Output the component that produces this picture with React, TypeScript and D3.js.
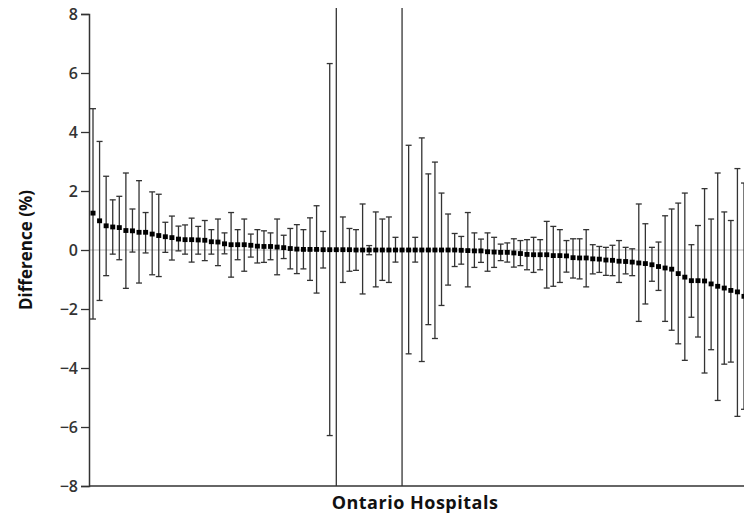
import { useEffect, useRef } from "react";
import * as d3 from "d3";

// point estimate per hospital, sorted high to low
const values = [
  1.25, 0.99, 0.82, 0.78, 0.76, 0.66, 0.65, 0.6, 0.6, 0.54,
  0.49, 0.45, 0.42, 0.37, 0.35, 0.35, 0.34, 0.33, 0.28, 0.27,
  0.21, 0.18, 0.18, 0.18, 0.16, 0.13, 0.12, 0.12, 0.1, 0.08,
  0.05, 0.03, 0.02, 0.02, 0.02, 0.01, 0.01, 0.01, 0.01, 0.01,
  0.0, 0.0, 0.0, 0.0, 0.0, 0.0, 0.0, 0.0, 0.0, 0.0,
  0.0, 0.0, 0.0, 0.0, 0.0, 0.0, -0.01, -0.02, -0.03, -0.03,
  -0.06, -0.07, -0.08, -0.08, -0.1, -0.12, -0.15, -0.16, -0.16, -0.16,
  -0.19, -0.19, -0.2, -0.26, -0.27, -0.27, -0.3, -0.31, -0.34, -0.35,
  -0.38, -0.39, -0.41, -0.44, -0.46, -0.5, -0.56, -0.61, -0.65, -0.8,
  -0.92, -1.04, -1.04, -1.05, -1.15, -1.23, -1.29, -1.37, -1.42, -1.57,
];

// upper confidence limits
const upper = [
  4.79, 3.68, 2.5, 1.7, 1.82, 2.61, 1.39, 2.35, 1.27, 1.97,
  1.89, 0.94, 1.15, 0.81, 0.85, 1.08, 0.8, 1.0, 0.69, 1.05,
  0.58, 1.27, 0.69, 1.05, 0.54, 0.69, 0.65, 0.58, 1.05, 0.5,
  0.73, 0.86, 0.69, 1.09, 1.5, 0.63, 6.32, 10, 1.12, 0.73,
  0.69, 1.56, 0.15, 1.29, 1.05, 1.12, 0.43, 10, 3.55, 0.43,
  3.8, 2.58, 2.98, 1.93, 1.22, 0.56, 0.46, 1.27, 0.58, 0.37,
  0.58, 0.43, 0.2, 0.24, 0.38, 0.32, 0.35, 0.43, 0.35, 0.97,
  0.8, 0.69, 0.32, 0.38, 0.38, 0.69, 0.18, 0.12, 0.09, 0.16,
  0.32, 0.09, 0.04, 1.56, 0.89, 0.09, 0.27, 1.16, 1.39, 1.59,
  1.93, 0.18, 0.83, 2.08, 1.05, 2.61, 1.29, 1.0, 2.76, 2.27,
];

// lower confidence limits
const lower = [
  -2.34, -1.71, -0.87, -0.14, -0.33, -1.3, -0.07, -1.12, -0.1, -0.84,
  -0.9, -0.08, -0.34, -0.03, -0.14, -0.41, -0.14, -0.36, -0.14, -0.53,
  -0.13, -0.92, -0.33, -0.72, -0.24, -0.44, -0.42, -0.33, -0.84, -0.29,
  -0.64, -0.8, -0.64, -1.03, -1.46, -0.61, -6.29, -10, -1.1, -0.72,
  -0.69, -1.49, -0.16, -1.25, -1.03, -1.1, -0.41, -10, -3.52, -0.41,
  -3.78, -2.53, -3.0, -1.88, -1.19, -0.56, -0.48, -1.25, -0.59, -0.42,
  -0.72, -0.59, -0.36, -0.41, -0.58, -0.53, -0.67, -0.76, -0.67, -1.29,
  -1.23, -1.1, -0.75, -0.95, -0.98, -1.25, -0.81, -0.76, -0.86, -0.87,
  -1.1, -0.81, -0.87, -2.42, -1.83, -1.06, -1.37, -2.42, -2.72, -3.18,
  -3.74, -2.28, -2.95, -4.17, -3.38, -5.1, -3.87, -3.8, -5.64, -5.4,
];

const hospitals = values.map((_, i) => `H${i + 1}`);
const yTicks = [-8, -6, -4, -2, 0, 2, 4, 6, 8];

export default function App() {
  const svgElem = useRef<SVGSVGElement>(null);
  const width = 744;
  const height = 516;

  useEffect(() => {
    const svg = d3.select(svgElem.current);
    svg.selectAll("*").remove();

    const left = 89;
    const top = 14;
    const bottom = 486;

    const x = d3.scalePoint().domain(hospitals).range([93, 744]);
    const y = d3.scaleLinear().domain([-8, 8]).range([bottom, top]);

    svg
      .append("defs")
      .append("clipPath")
      .attr("id", "plot-clip")
      .append("rect")
      .attr("x", left)
      .attr("y", 8)
      .attr("width", width - left)
      .attr("height", bottom - 8);

    // zero reference line
    svg
      .append("line")
      .attr("x1", left)
      .attr("x2", width)
      .attr("y1", y(0))
      .attr("y2", y(0))
      .attr("stroke", "#a8a8a8")
      .attr("stroke-width", 0.8);

    const data = hospitals.map((h, i) => ({
      h,
      v: values[i],
      lo: lower[i],
      hi: upper[i],
    }));

    const g = svg.append("g").attr("clip-path", "url(#plot-clip)");
    const bars = g.selectAll("g.bar").data(data).join("g").attr("class", "bar");
    const capW = 3;

    bars
      .append("line")
      .attr("x1", (d) => x(d.h)!)
      .attr("x2", (d) => x(d.h)!)
      .attr("y1", (d) => y(d.hi))
      .attr("y2", (d) => y(d.lo))
      .attr("stroke", "#333")
      .attr("stroke-width", 1.3);
    bars
      .selectAll("line.cap")
      .data((d) => [
        { h: d.h, val: d.hi },
        { h: d.h, val: d.lo },
      ])
      .join("line")
      .attr("class", "cap")
      .attr("x1", (d) => x(d.h)! - capW)
      .attr("x2", (d) => x(d.h)! + capW)
      .attr("y1", (d) => y(d.val))
      .attr("y2", (d) => y(d.val))
      .attr("stroke", "#333")
      .attr("stroke-width", 1.3);

    g.selectAll("rect.pt")
      .data(data)
      .join("rect")
      .attr("class", "pt")
      .attr("x", (d) => x(d.h)! - 2.5)
      .attr("y", (d) => y(d.v) - 2.4)
      .attr("width", 5)
      .attr("height", 4.8)
      .attr("fill", "#000");

    // y axis
    const yAxis = svg
      .append("g")
      .attr("transform", `translate(${left},0)`)
      .call(
        d3
          .axisLeft(y)
          .tickValues(yTicks)
          .tickSize(8)
          .tickPadding(3)
          .tickFormat((d) => d3.format("d")(d as number))
      );
    yAxis.select(".domain").attr("stroke", "#333").attr("stroke-width", 1.5);
    yAxis.selectAll(".tick line").attr("stroke", "#333").attr("stroke-width", 1.3);
    yAxis
      .selectAll(".tick text")
      .attr("fill", "#333")
      .attr("font-family", "'Open Sans', sans-serif")
      .attr("font-weight", 600)
      .attr("font-size", 16);

    // x axis line (no ticks)
    svg
      .append("line")
      .attr("x1", left)
      .attr("x2", width)
      .attr("y1", bottom)
      .attr("y2", bottom)
      .attr("stroke", "#333")
      .attr("stroke-width", 1.5);

    svg
      .append("text")
      .attr("x", 415)
      .attr("y", 509)
      .attr("text-anchor", "middle")
      .attr("font-family", "'Open Sans', sans-serif")
      .attr("font-weight", 700)
      .attr("font-size", 18)
      .attr("letter-spacing", 0.5)
      .attr("fill", "#111")
      .text("Ontario Hospitals");

    svg
      .append("text")
      .attr("transform", `translate(32,250) rotate(-90)`)
      .attr("text-anchor", "middle")
      .attr("font-family", "'Open Sans', sans-serif")
      .attr("font-weight", 700)
      .attr("font-size", 17)
      .attr("fill", "#111")
      .text("Difference (%)");
  }, []);

  return (
    <svg
      ref={svgElem}
      width={width}
      height={height}
      style={{ position: "absolute", left: 0, top: 0, background: "#fff" }}
    ></svg>
  );
}
